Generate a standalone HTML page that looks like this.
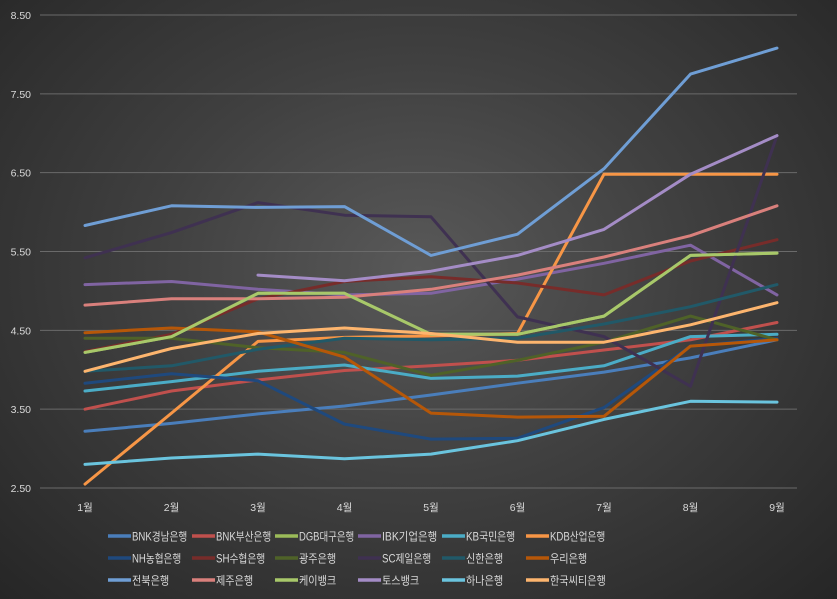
<!DOCTYPE html>
<html><head><meta charset="utf-8"><style>
html,body{margin:0;padding:0}
body{width:837px;height:599px;overflow:hidden;background:radial-gradient(ellipse at 50% 45%,#595959 0%,#404040 45%,#262626 100%);font-family:"Liberation Sans","Noto Sans CJK KR",sans-serif}
svg{position:absolute;left:0;top:0}
</style></head><body>
<svg id="chart" width="837" height="599" xmlns="http://www.w3.org/2000/svg"></svg>
<script>
const categories=["1월","2월","3월","4월","5월","6월","7월","8월","9월"];
const yTicks=[2.5,3.5,4.5,5.5,6.5,7.5,8.5];
const seriesNames=["BNK경남은행","BNK부산은행","DGB대구은행","IBK기업은행","KB국민은행","KDB산업은행","NH농협은행","SH수협은행","광주은행","SC제일은행","신한은행","우리은행","전북은행","제주은행","케이뱅크","토스뱅크","하나은행","한국씨티은행"];
const seriesColors=["#4a7ebb","#c0504d","#9bbb59","#8064a2","#4bacc6","#f79646","#1f497d","#772c2a","#4f6228","#3f3151","#215968","#b65708","#6f9ed5","#d9807c","#a8c86a","#a48cc6","#6ac4de","#fdb56e"];
const sBNKGyeongnam=[3.22,3.32,3.44,3.54,3.68,3.83,3.97,4.15,4.38];
const sBNKBusan=[3.50,3.73,3.87,3.99,4.05,4.12,4.25,4.38,4.60];
const sDGB=[4.22,4.42,4.97,4.97,4.45,4.45,4.68,5.45,5.48];
const sIBK=[5.08,5.12,5.02,4.95,4.97,5.15,5.35,5.58,4.95];
const sKB=[3.73,3.85,3.98,4.06,3.89,3.92,4.05,4.42,4.45];
const sKDB=[2.55,3.45,4.36,4.41,4.43,4.46,6.48,6.48,6.48];
const sNH=[3.83,3.95,3.86,3.31,3.12,3.13,3.52,4.30,4.40];
const sSH=[4.23,4.45,4.90,5.12,5.18,5.10,4.95,5.38,5.65];
const sGwangju=[4.40,4.40,4.28,4.22,3.93,4.12,4.35,4.68,4.38];
const sSC=[5.42,5.74,6.12,5.96,5.94,4.67,4.42,3.79,6.97];
const sShinhan=[3.98,4.05,4.26,4.40,4.38,4.40,4.58,4.80,5.08];
const sWoori=[4.47,4.53,4.48,4.16,3.45,3.40,3.41,4.30,4.38];
const sJeonbuk=[5.83,6.08,6.06,6.07,5.45,5.72,6.55,7.75,8.08];
const sJeju=[4.82,4.90,4.90,4.92,5.02,5.20,5.43,5.70,6.08];
const sKbank=[4.22,4.42,4.97,4.97,4.45,4.45,4.68,5.45,5.48];
const sToss=[null,null,5.20,5.13,5.25,5.45,5.78,6.48,6.97];
const sHana=[2.80,2.88,2.93,2.87,2.93,3.10,3.37,3.60,3.59];
const sCiti=[3.98,4.27,4.46,4.53,4.46,4.35,4.35,4.57,4.85];
const allSeries=[sBNKGyeongnam,sBNKBusan,sDGB,sIBK,sKB,sKDB,sNH,sSH,sGwangju,sSC,sShinhan,sWoori,sJeonbuk,sJeju,sKbank,sToss,sHana,sCiti];

const NS="http://www.w3.org/2000/svg";
const svg=document.getElementById('chart');
const x0=85,x1=777,yTop=15,yBot=488,vMin=2.5,vMax=8.5;
function xs(i){return x0+(x1-x0)*i/(categories.length-1);}
function ys(v){return yBot-(v-vMin)/(vMax-vMin)*(yBot-yTop);}
function mk(t,a){const e=document.createElementNS(NS,t);for(const k in a)e.setAttribute(k,a[k]);svg.appendChild(e);return e;}

yTicks.forEach(t=>{
  const g=mk('line',{x1:40,x2:797,y1:ys(t),y2:ys(t),stroke:'#6a6a6a','stroke-width':1});
  
  
  const l=mk('text',{x:31,y:ys(t)+4,'text-anchor':'end','font-size':'10.5',fill:'#d9d9d9'});
  l.textContent=t.toFixed(2);
  
  
});
categories.forEach((c,i)=>{
  const l=mk('text',{x:xs(i),y:511,'text-anchor':'middle','font-size':'10.5',fill:'#d9d9d9'});
  l.textContent=c;
  
  
});
allSeries.forEach((s,k)=>{
  let d='',pen=false;
  s.forEach((v,i)=>{if(v==null){pen=false;return;}d+=(pen?'L':'M')+xs(i).toFixed(1)+' '+ys(v).toFixed(1)+' ';pen=true;});
  const p=mk('path',{d:d,fill:'none',stroke:seriesColors[k],'stroke-width':3,'stroke-linejoin':'round','stroke-linecap':'round'});
  
  
});
const colX=[108,192,275,358,442,526];
seriesNames.forEach((n,k)=>{
  const cx=colX[k%6],cy=536+22*Math.floor(k/6);
  const ln=mk('line',{x1:cx,x2:cx+23,y1:cy,y2:cy,stroke:seriesColors[k],'stroke-width':3.5});
  
  
  let w=0;for(const ch of n){w+=/[A-Za-z]/.test(ch)?6:9.3;}
  const t=mk('text',{x:cx+24,y:cy+4.5,'font-size':'11.5',fill:'#d9d9d9',textLength:w.toFixed(1),lengthAdjust:'spacingAndGlyphs'});
  t.textContent=n;
  
  
});
</script>
</body></html>
